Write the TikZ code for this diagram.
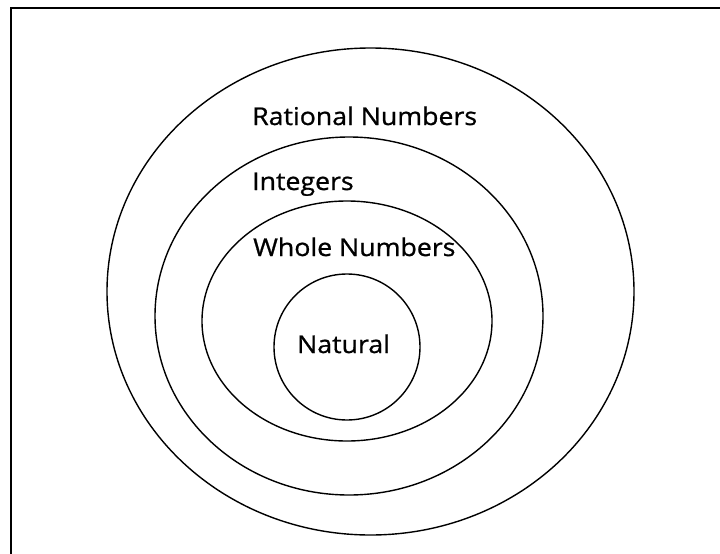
\documentclass[tikz,border=0pt]{standalone}
\usepackage{fontspec}
\setmainfont{Open Sans}
\newfontfamily\lblfont{Open Sans}[FakeBold=0.9,FakeStretch=1.09]
\usetikzlibrary{shapes.geometric}
\begin{document}
\begin{tikzpicture}[x=1pt,y=-1pt,
  ring/.style={draw=black,line width=1.4pt,ellipse,inner sep=0pt},
  lbl/.style={anchor=base west,inner sep=0pt,font=\lblfont\fontsize{24.5}{25}\selectfont}]
\useasboundingbox (0,0) rectangle (720,554);
\begin{scope}
\clip (0,0) rectangle (720,554);
\draw[line width=1.6pt] (11,8) rectangle (740,580);
\end{scope}
\node[ring,minimum width=527pt,minimum height=487pt] (rat) at (370.5,291.5) {};
\node[ring,minimum width=388pt,minimum height=358pt] (int) at (349,316) {};
\node[ring,minimum width=290pt,minimum height=240pt] (who) at (347,321) {};
\node[ring,minimum width=146pt,minimum height=146pt] (nat) at (347,347) {};
\node[lbl] (tr) at (252,125) {Rational Numbers};
\node[lbl] (ti) at (252,190) {Integers};
\node[lbl] (tw) at (253,256) {Whole Numbers};
\node[lbl] (tn) at (297,353) {Natural};
\end{tikzpicture}
\end{document}
